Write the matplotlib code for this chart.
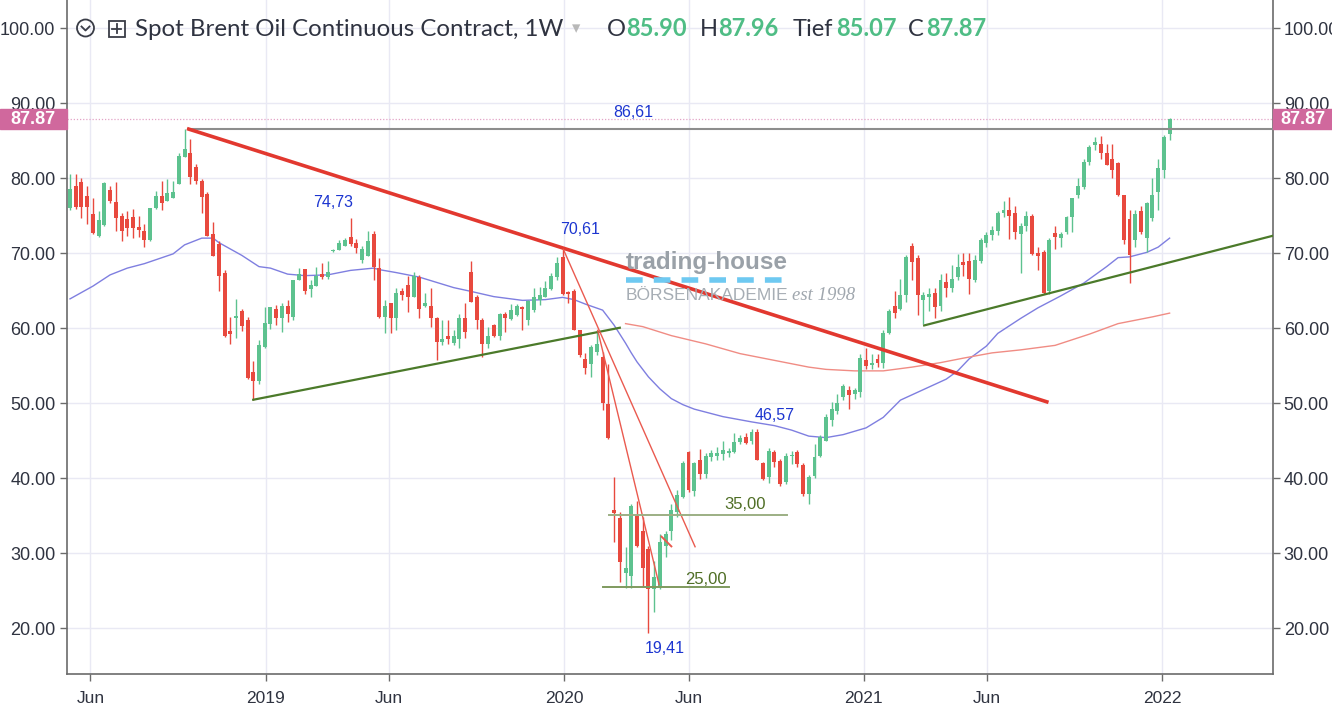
import matplotlib
matplotlib.use("Agg")
import matplotlib.pyplot as plt
import matplotlib.dates as mdates
import matplotlib.transforms as mtransforms
from matplotlib.patches import Rectangle, Circle
from matplotlib.lines import Line2D
import numpy as np
import pandas as pd

W, H = 1332, 711

# ---------------- data ----------------
start_week = "2018-05-14"
opens = [76.0, 79.0, 79.5, 77.6, 75.2, 72.3, 73.8, 78.4, 76.8, 75.0,
         74.5, 74.8, 73.5, 73.0, 71.8, 76.0, 77.6, 77.0, 77.3, 79.2,
         82.8, 83.3, 81.5, 79.6, 77.9, 72.5, 71.2, 67.4, 59.6, 61.4,
         62.3, 61.1, 54.1, 53.0, 57.5, 60.6, 62.5, 61.4, 62.9, 61.5,
         66.4, 67.9, 65.2, 65.6, 67.2, 66.8, 70.3, 70.4, 71.0, 72.1,
         71.3, 69.1, 69.6, 72.6, 68.0, 61.5, 63.3, 61.4, 65.0, 65.8,
         64.2, 66.8, 62.9, 62.9, 61.3, 58.1, 58.9, 58.0, 58.6, 61.4,
         67.5, 64.2, 61.1, 57.9, 60.4, 58.9, 61.9, 61.2, 61.7, 62.8,
         61.1, 62.4, 63.7, 64.2, 65.2, 66.8, 69.5, 64.8, 65.0, 59.8,
         55.9, 55.2, 56.8, 56.2, 49.9, 35.8, 34.7, 27.3, 27.0, 34.9,
         33.0, 30.5, 25.2, 25.5, 31.0, 33.0, 35.5, 37.5, 43.5, 38.3,
         42.4, 40.6, 42.8, 43.0, 43.2, 43.4, 43.5, 44.8, 45.5, 45.0,
         46.1, 42.0, 40.1, 43.5, 42.3, 39.5, 42.9, 43.5, 41.7, 37.9,
         40.3, 43.0, 45.0, 47.8, 49.0, 50.8, 51.8, 51.2, 51.5, 55.8,
         55.1, 55.9, 55.4, 59.4, 62.9, 62.6, 64.4, 70.9, 69.3, 63.7,
         64.2, 64.7, 62.9, 66.2, 65.3, 66.8, 68.8, 68.9, 66.4, 69.0,
         71.3, 72.4, 72.9, 75.4, 75.8, 75.3, 72.5, 73.6, 75.0, 70.0,
         70.1, 64.9, 72.7, 72.0, 72.8, 74.8, 77.7, 78.8, 82.2, 84.4,
         84.6, 83.3, 82.6, 82.0, 77.7, 74.5, 71.7, 75.6, 72.0, 74.7,
         78.2, 81.1, 85.90]
highs = [80.5, 80.5, 80.0, 79.0, 77.4, 75.6, 79.5, 79.0, 79.5, 75.4,
         75.6, 75.9, 75.0, 73.9, 76.0, 78.3, 79.6, 79.9, 79.6, 83.3,
         86.61, 85.2, 81.9, 79.9, 78.1, 74.1, 71.6, 67.8, 61.5, 63.9,
         62.5, 61.5, 55.6, 58.4, 62.8, 62.8, 63.1, 63.3, 63.7, 66.4,
         68.0, 67.9, 66.4, 68.2, 68.7, 68.9, 70.5, 71.8, 72.0, 74.73,
         71.9, 70.9, 72.9, 72.9, 69.3, 63.7, 63.4, 65.3, 65.4, 66.9,
         67.5, 67.1, 64.7, 65.4, 61.5, 61.1, 61.1, 59.7, 61.9, 63.3,
         68.9, 64.4, 61.3, 60.2, 60.6, 62.0, 62.2, 63.2, 63.2, 62.9,
         63.7, 65.3, 65.5, 66.3, 67.3, 69.5, 70.61, 65.0, 65.2, 59.8,
         56.7, 57.7, 59.7, 56.8, 55.2, 40.1, 35.5, 30.8, 36.5, 37.0,
         34.8, 31.0, 29.0, 32.6, 33.0, 36.5, 38.4, 42.3, 43.6, 42.1,
         43.9, 43.3, 43.8, 44.1, 44.9, 44.0, 46.0, 45.7, 46.0, 46.57,
         46.5, 42.2, 44.0, 43.7, 42.6, 43.3, 43.6, 43.7, 42.0, 40.4,
         44.5, 45.7, 48.5, 50.2, 51.2, 52.5, 52.3, 52.0, 56.5, 57.4,
         56.6, 56.6, 59.8, 62.6, 64.9, 66.6, 69.8, 71.3, 69.8, 64.8,
         65.3, 65.3, 67.2, 67.3, 68.4, 69.9, 70.0, 70.0, 69.7, 72.0,
         72.8, 73.6, 75.6, 76.9, 77.5, 76.3, 74.0, 75.6, 75.2, 70.8,
         70.4, 72.0, 73.6, 72.8, 75.0, 77.4, 80.0, 82.5, 84.4, 85.5,
         85.6, 84.6, 84.6, 82.2, 77.8, 75.8, 75.8, 76.3, 76.8, 80.0,
         82.6, 85.7, 87.96]
lows = [75.8, 75.9, 74.7, 73.9, 72.6, 72.2, 73.6, 76.7, 72.9, 71.6,
        72.3, 72.0, 72.1, 70.8, 71.6, 75.9, 75.7, 77.0, 77.3, 79.2,
        82.8, 79.2, 79.2, 75.4, 72.3, 69.6, 65.0, 58.8, 57.9, 58.7,
        59.6, 53.2, 50.4, 52.5, 57.3, 59.9, 60.4, 59.5, 60.8, 61.1,
        66.4, 64.6, 64.2, 65.6, 66.6, 66.6, 70.2, 70.4, 70.9, 70.9,
        70.0, 68.7, 69.6, 66.4, 61.4, 59.4, 59.4, 59.8, 63.7, 62.2,
        64.2, 61.3, 62.8, 60.1, 55.8, 57.7, 57.9, 57.7, 57.3, 58.7,
        63.5, 59.9, 56.1, 57.3, 58.8, 58.4, 59.5, 61.1, 61.6, 59.8,
        60.4, 62.2, 63.1, 64.2, 65.1, 66.4, 64.4, 63.3, 59.8, 56.1,
        53.9, 53.5, 56.4, 49.1, 45.2, 31.5, 26.1, 25.4, 25.3, 30.8,
        25.5, 19.41, 22.1, 25.2, 29.5, 31.8, 34.8, 37.3, 38.2, 37.6,
        39.9, 40.0, 42.3, 42.4, 42.4, 42.8, 43.3, 44.5, 44.5, 44.6,
        42.4, 39.7, 39.4, 41.5, 39.0, 39.2, 41.9, 41.5, 37.6, 36.6,
        40.0, 42.8, 44.9, 47.0, 48.5, 50.4, 49.2, 50.6, 50.8, 54.6,
        54.6, 54.8, 54.7, 59.2, 61.3, 62.4, 63.5, 66.4, 61.7, 60.5,
        62.3, 61.4, 62.3, 64.2, 64.8, 66.4, 67.0, 64.6, 66.2, 68.7,
        70.8, 71.8, 72.4, 74.8, 71.9, 71.9, 67.3, 73.0, 69.7, 67.8,
        64.6, 64.6, 70.6, 70.8, 72.5, 72.8, 77.4, 78.5, 81.8, 83.8,
        82.6, 81.7, 80.0, 77.6, 71.2, 66.0, 70.8, 72.6, 70.1, 74.3,
        75.8, 80.0, 85.07]
closes = [78.6, 76.1, 76.2, 76.1, 72.7, 74.4, 79.3, 76.9, 74.7, 72.9,
          73.3, 73.3, 73.1, 71.8, 76.0, 77.6, 76.7, 78.0, 78.2, 83.0,
          83.9, 80.2, 79.6, 77.5, 72.3, 69.6, 67.0, 59.0, 59.2, 61.5,
          60.3, 53.4, 53.0, 57.7, 60.7, 62.8, 61.4, 62.9, 61.9, 66.4,
          67.2, 64.9, 65.7, 67.0, 66.8, 67.5, 70.4, 71.4, 71.8, 71.2,
          70.7, 70.5, 71.6, 68.2, 61.5, 62.9, 61.4, 64.7, 64.4, 64.2,
          66.9, 62.6, 63.3, 61.3, 58.1, 58.5, 58.6, 59.0, 61.4, 59.5,
          63.5, 61.1, 57.9, 59.0, 58.9, 61.9, 61.4, 62.4, 62.9, 62.6,
          63.6, 64.2, 64.4, 65.3, 66.9, 68.7, 64.6, 64.5, 59.8, 56.4,
          54.7, 57.5, 57.9, 50.0, 45.4, 35.3, 28.8, 28.0, 36.3, 31.0,
          28.0, 25.2, 26.8, 31.5, 32.6, 35.8, 37.7, 42.0, 38.4, 42.0,
          40.6, 43.0, 43.3, 43.3, 43.8, 43.6, 44.8, 45.4, 44.7, 46.1,
          42.4, 39.9, 43.6, 42.1, 39.2, 43.0, 43.1, 41.9, 37.9, 40.1,
          42.8, 45.5, 48.2, 49.2, 50.0, 52.3, 51.1, 51.8, 56.0, 55.0,
          55.4, 55.4, 59.3, 62.3, 62.0, 64.4, 69.5, 68.8, 64.4, 64.4,
          64.5, 62.8, 66.4, 65.3, 66.6, 68.2, 68.4, 66.6, 69.1, 71.8,
          72.4, 73.1, 75.4, 75.8, 75.0, 72.8, 73.6, 74.9, 69.9, 69.6,
          64.7, 71.7, 72.1, 72.6, 74.8, 77.4, 79.0, 82.2, 84.2, 84.8,
          83.3, 81.8, 81.1, 77.8, 71.7, 69.7, 75.2, 72.8, 76.7, 77.8,
          81.3, 85.5, 87.87]

# moving averages (week index into the candle series, value)
ma_blue_idx = [0, 4, 7, 10, 13, 18, 20, 23, 25, 26, 30, 33, 35, 38, 41, 45,
               49, 53, 54, 57, 61, 64, 67, 70, 74, 79, 83, 86, 88, 90, 93,
               95, 96, 97, 98, 99, 100, 101, 103, 105, 107, 109, 114, 119,
               123, 126, 129, 132, 135, 139, 142, 145, 149, 153, 155, 157,
               160, 162, 166, 169, 173, 177, 181, 183, 185, 188, 190, 192]
ma_blue_val = [63.9, 65.6, 67.1, 68.0, 68.6, 69.9, 71.1, 72.0, 72.0, 71.4,
               69.7, 68.2, 68.0, 67.2, 67.0, 67.1, 67.7, 68.0, 67.8, 67.4,
               66.8, 66.1, 65.4, 64.9, 64.2, 63.7, 63.8, 64.1, 63.8, 63.2,
               62.4, 60.4, 59.2, 58.0, 56.7, 55.5, 54.5, 53.5, 51.9, 50.6,
               49.8, 49.2, 48.2, 47.5, 47.0, 46.4, 45.6, 45.4, 45.8, 46.7,
               48.1, 50.4, 51.8, 53.2, 54.3, 55.9, 57.6, 59.3, 61.3, 62.7,
               64.3, 66.0, 68.2, 69.4, 69.5, 70.1, 70.8, 72.0]
ma_red_idx = [97, 100, 105, 111, 117, 123, 129, 132, 137, 142, 147, 152,
              156, 161, 166, 172, 178, 183, 189, 192]
ma_red_val = [60.6, 60.2, 59.0, 57.9, 56.6, 55.7, 54.8, 54.5, 54.3, 54.3,
              54.8, 55.4, 56.0, 56.7, 57.1, 57.7, 59.2, 60.6, 61.5, 62.0]

# drawn objects (date, price)
trend_main = [("2018-10-04", 86.61), ("2021-08-22", 50.1)]
support_1 = [("2018-12-24", 50.45), ("2020-03-16", 60.05)]
support_2 = [("2021-03-23", 60.36), ("2022-05-23", 72.31)]
fan_a = [("2020-01-07", 70.5), ("2020-06-16", 30.85)]
fan_b = [("2020-02-18", 59.7), ("2020-05-03", 25.8)]
small_mark = [("2020-05-06", 32.2), ("2020-05-18", 30.9)]
level_35 = [("2020-03-03", 35.1), ("2020-10-06", 35.1)]
level_25 = [("2020-02-25", 25.5), ("2020-07-27", 25.5)]
resist_level = 86.61
resist_start = "2018-10-04"
last_price = 87.87

annot_text = ["86,61", "74,73", "70,61", "46,57", "19,41"]
annot_date = ["2020-04-01", "2019-03-31", "2020-01-27", "2020-09-21", "2020-05-10"]
annot_val = [88.7, 76.7, 73.1, 48.3, 17.3]
level_text = ["35,00", "25,00"]
level_text_date = ["2020-08-16", "2020-06-29"]
level_text_val = [36.5, 26.5]

tick_dates = ["2018-06-08", "2019-01-08", "2019-06-08", "2020-01-08",
              "2020-06-08", "2021-01-08", "2021-06-08", "2022-01-08"]
tick_labels = ["Jun", "2019", "Jun", "2020", "Jun", "2021", "Jun", "2022"]
y_ticks = [20, 30, 40, 50, 60, 70, 80, 90, 100]

header_title = "Spot Brent Oil Continuous Contract, 1W"
ohlc_names = ["O", "H", "Tief", "C"]
ohlc_values = ["85.90", "87.96", "85.07", "87.87"]

# ---------------- style ----------------
GREEN = "#5dc28f"
RED = "#e8493e"
GRID = "#e9e9f4"
TXT = "#2f3340"
BLUE_TXT = "#1c35d0"
OLIVE = "#4f6e25"
PINK = "#d0689d"

plt.rcParams["font.family"] = ["Liberation Sans", "DejaVu Sans"]

fig = plt.figure(figsize=(W / 100, H / 100), dpi=100)
fig.patch.set_facecolor("white")
ax_l, ax_r, ax_b = 66.6, 1272.7, 674.4
ax = fig.add_axes([ax_l / W, 1 - ax_b / H, (ax_r - ax_l) / W, ax_b / H])
ax.set_facecolor("white")

d2n = mdates.datestr2num
x = mdates.date2num(pd.date_range(start_week, periods=len(opens), freq="7D").to_pydatetime())
o = np.array(opens); h = np.array(highs); l = np.array(lows); c = np.array(closes)
up = c >= o
cols = np.where(up, GREEN, RED)

ax.set_xlim(d2n("2018-05-09 20:00"), d2n("2022-05-23"))
ax.set_ylim(13.83, 103.75)

# grid
for yv in y_ticks:
    ax.axhline(yv, color=GRID, lw=1.0, zorder=0)
for td in tick_dates:
    ax.axvline(d2n(td), color=GRID, lw=1.0, zorder=0)

# moving averages
ax.plot(x[ma_blue_idx], ma_blue_val, color="#7f7fe0", lw=1.0, zorder=2)
ax.plot(x[ma_red_idx], ma_red_val, color="#f08c84", lw=1.0, zorder=2)

# candles
ax.vlines(x, l, h, colors=cols, lw=1.0, zorder=3)
body_lo = np.minimum(o, c)
body_h = np.maximum(np.abs(c - o), 0.18)
ax.bar(x, body_h, bottom=body_lo, width=4.8, color=cols, lw=0, zorder=4)

# horizontal lines
ax.plot([d2n(resist_start), ax.get_xlim()[1]], [resist_level, resist_level],
        color="#8d8d8d", lw=1.5, zorder=5, solid_capstyle="butt")
ax.axhline(last_price, color="#e3a3c6", lw=0.9, ls=(0, (1, 1.5)), zorder=1)

def seg(pts, **kw):
    ax.plot([d2n(p[0]) for p in pts], [p[1] for p in pts], **kw)

seg(trend_main, color="#e2382f", lw=2.6, zorder=6, solid_capstyle="butt")
seg(support_1, color="#4b7a2a", lw=1.6, zorder=6)
seg(support_2, color="#4b7a2a", lw=1.6, zorder=6)
seg(fan_a, color="#ea5a4f", lw=1.0, zorder=6)
seg(fan_b, color="#ea5a4f", lw=1.0, zorder=6)
seg(small_mark, color="#ea5a4f", lw=1.4, zorder=6)
seg(level_35, color="#9caf84", lw=1.4, zorder=6)
seg(level_25, color="#7f9a5e", lw=1.4, zorder=6)

for t, dd, vv in zip(annot_text, annot_date, annot_val):
    ax.text(d2n(dd), vv, t, color=BLUE_TXT, fontsize=11.5, ha="center", va="center", zorder=7)
for t, dd, vv in zip(level_text, level_text_date, level_text_val):
    ax.text(d2n(dd), vv, t, color=OLIVE, fontsize=12, ha="center", va="center", zorder=7)

# axes styling
for side in ["left", "right", "bottom"]:
    ax.spines[side].set_color("#6b6b6b")
    ax.spines[side].set_linewidth(1.2)
ax.spines["top"].set_visible(False)
ax.set_yticks(y_ticks)
ax.set_yticklabels([f"{v:.2f}" for v in y_ticks])
ax.set_xticks([d2n(t) for t in tick_dates])
ax.set_xticklabels(tick_labels)
ax.tick_params(axis="y", which="both", left=True, right=True, labelleft=True,
               labelright=True, length=5, width=1, color="#6b6b6b",
               labelsize=13, labelcolor=TXT, pad=3)
ax.tick_params(axis="x", length=5, width=1, color="#6b6b6b", labelsize=12.5,
               labelcolor=TXT, pad=7)

# price label boxes
bt = mtransforms.blended_transform_factory(fig.transFigure, ax.transData)
bh = 20 / 7.5
fig.patches.append(Rectangle((0, last_price - bh / 2), ax_l / W, bh, transform=bt,
                             color=PINK, zorder=10))
fig.patches.append(Rectangle((ax_r / W + 0.0005, last_price - bh / 2), (W - ax_r) / W, bh,
                             transform=bt, color=PINK, zorder=10))
fig.text(33 / W, last_price, f"{last_price:.2f}", transform=bt, color="white",
         fontsize=13, fontweight="bold", ha="center", va="center", zorder=11)
fig.text(1303 / W, last_price, f"{last_price:.2f}", transform=bt, color="white",
         fontsize=13, fontweight="bold", ha="center", va="center", zorder=11)

# header
def ftxt(px, py, s, **kw):
    fig.text(px / W, 1 - py / H, s, **kw)

idt = mtransforms.IdentityTransform()
fig.patches.append(Circle((85.5, H - 28), 8.5, transform=idt, fill=False,
                          ec="#3a3d47", lw=1.3))
fig.lines.append(Line2D([81.5, 85.5, 89.5], [H - 26.5, H - 30.5, H - 26.5],
                        transform=idt, color="#3a3d47", lw=1.3))
fig.patches.append(Rectangle((108.5, H - 36.5), 16, 16, transform=idt, fill=False,
                             ec="#3a3d47", lw=1.3))
fig.lines.append(Line2D([112, 121], [H - 28.5, H - 28.5], transform=idt,
                        color="#3a3d47", lw=1.3))
fig.lines.append(Line2D([116.5, 116.5], [H - 33, H - 24], transform=idt,
                        color="#3a3d47", lw=1.3))

ftxt(135, 29, header_title, fontsize=17.3, color=TXT, family="Lato", va="center", ha="left")
ftxt(572, 29, "\u25BE", fontsize=12, color="#b8b8b8", va="center", ha="left")
name_x = [607, 700, 793, 908]
val_x = [626, 718, 836, 926]
for nx, vx, nm, vl in zip(name_x, val_x, ohlc_names, ohlc_values):
    ftxt(nx, 29, nm, fontsize=17, color=TXT, family="Lato", va="center", ha="left")
    ftxt(vx, 29, vl, fontsize=17, color="#4fbd85", family="Lato", fontweight="bold",
         va="center", ha="left")

# watermark
ftxt(626, 262, "trading-house", fontsize=17.5, color="#9aa1a8", fontweight="bold",
     va="center", ha="left", zorder=1)
fig.lines.append(Line2D([626, 783], [H - 280, H - 280], transform=idt,
                        color="#6ec9f1", lw=4, ls=(0, (3, 2))))
ftxt(626, 295, "BÖRSENAKADEMIE", fontsize=12.5, color="#a6adb4", va="center", ha="left")
ftxt(792, 295, "est 1998", fontsize=13.5, color="#a0a7ae", family="Liberation Serif",
     style="italic", va="center", ha="left")

fig.savefig("out.png", dpi=100)
